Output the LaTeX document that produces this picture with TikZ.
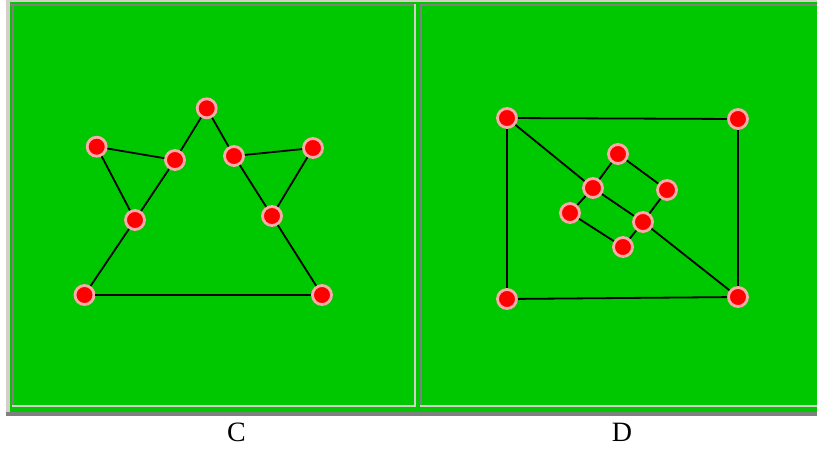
\documentclass[tikz,border=0pt]{standalone}
\usepackage{fontspec}
\setmainfont{Liberation Serif}
\definecolor{bggreen}{RGB}{0,200,0}
\definecolor{winlight}{RGB}{212,208,200}
\definecolor{wingray}{RGB}{128,128,128}
\definecolor{halo}{RGB}{255,170,170}
\begin{document}
\begin{tikzpicture}[x=1pt,y=-1pt,
  dot/.style={circle,fill=red,draw=halo,line width=2.8pt,inner sep=0pt,minimum size=19pt},
  link/.style={draw=black,line width=1.8pt},
  captext/.style={font=\fontsize{28}{32}\selectfont,text=black,anchor=base,inner sep=0pt}]
\useasboundingbox (0,0) rectangle (817,448);
\fill[white] (0,0) rectangle (817,448);
% frame
\fill[winlight] (6,0) rectangle (817,412);
\fill[bggreen] (10,2) rectangle (817,412);
\fill[wingray] (6,412) rectangle (817,416);
% left panel borders
\fill[wingray] (10,4) rectangle (416,6);
\fill[wingray] (12,4) rectangle (14,407);
\fill[winlight] (414,4) rectangle (416,407);
\fill[winlight] (12,405) rectangle (416,407);
% right panel borders
\fill[wingray] (420,4) rectangle (817,6);
\fill[wingray] (420,4) rectangle (422,407);
\fill[winlight] (420,405) rectangle (817,407);
% panel C nodes
\node[dot] (c1) at (96.7,146.7) {};
\node[dot] (c2) at (206.7,108.3) {};
\node[dot] (c3) at (175,160) {};
\node[dot] (c4) at (135,220) {};
\node[dot] (c5) at (234,156) {};
\node[dot] (c6) at (313,148) {};
\node[dot] (c7) at (272,216) {};
\node[dot] (c8) at (84.5,295) {};
\node[dot] (c9) at (322,295) {};
\path[link] (c1) -- (c3);
\path[link] (c1) -- (c4);
\path[link] (c4) -- (c3);
\path[link] (c3) -- (c2);
\path[link] (c2) -- (c5);
\path[link] (c5) -- (c6);
\path[link] (c6) -- (c7);
\path[link] (c5) -- (c7);
\path[link] (c4) -- (c8);
\path[link] (c8) -- (c9);
\path[link] (c7) -- (c9);
% panel D nodes
\node[dot] (tl) at (507,118) {};
\node[dot] (tr) at (738,119) {};
\node[dot] (bl) at (507,299) {};
\node[dot] (br) at (738,297) {};
\node[dot] (da) at (618,154) {};
\node[dot] (db) at (593,188) {};
\node[dot] (dc) at (667,190) {};
\node[dot] (dd) at (570,213) {};
\node[dot] (de) at (643,222) {};
\node[dot] (df) at (623,247) {};
\path[link] (tl) -- (tr);
\path[link] (tl) -- (bl);
\path[link] (bl) -- (br);
\path[link] (tr) -- (br);
\path[link] (tl) -- (db);
\path[link] (db) -- (de);
\path[link] (de) -- (br);
\path[link] (da) -- (db);
\path[link] (da) -- (dc);
\path[link] (dc) -- (de);
\path[link] (db) -- (dd);
\path[link] (dd) -- (df);
\path[link] (df) -- (de);
% captions
\node[captext] (capc) at (236.5,441) {C};
\node[captext] (capd) at (622,441) {D};
\end{tikzpicture}
\end{document}
